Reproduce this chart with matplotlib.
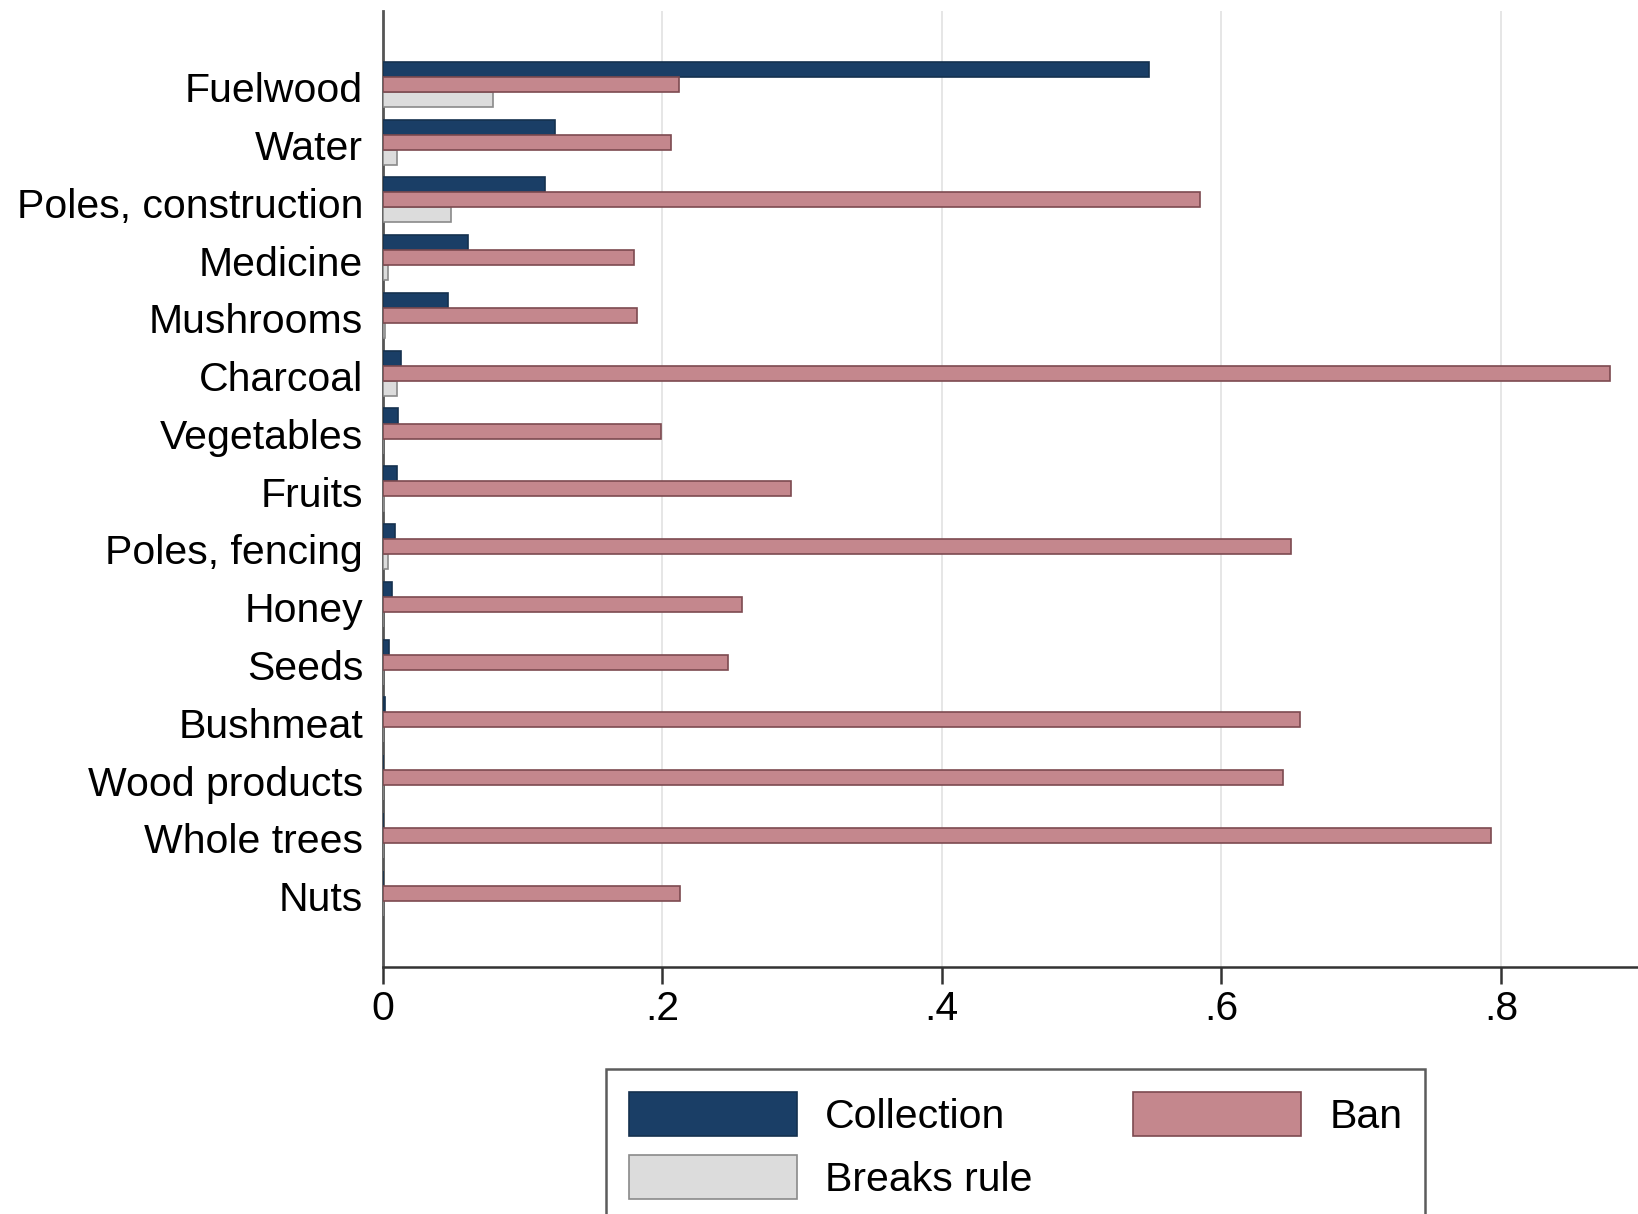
import matplotlib
matplotlib.use("Agg")
import matplotlib.pyplot as plt
import numpy as np

categories = ["Fuelwood", "Water", "Poles, construction", "Medicine", "Mushrooms",
              "Charcoal", "Vegetables", "Fruits", "Poles, fencing", "Honey",
              "Seeds", "Bushmeat", "Wood products", "Whole trees", "Nuts"]
collection = [0.548, 0.123, 0.116, 0.061, 0.047, 0.013, 0.011, 0.010, 0.009, 0.007,
              0.0045, 0.002, 0.0005, 0.0003, 0.0]
ban = [0.212, 0.206, 0.585, 0.180, 0.182, 0.878, 0.199, 0.292, 0.650, 0.257,
       0.247, 0.656, 0.644, 0.793, 0.213]
breaks_rule = [0.079, 0.010, 0.049, 0.004, 0.0015, 0.0105, 0.0005, 0.001, 0.004, 0.0005,
               0.0003, 0.0003, 0.0002, 0.0001, 0.0]
xticks = [0, 0.2, 0.4, 0.6, 0.8]
xticklabels = ["0", ".2", ".4", ".6", ".8"]

plt.rcParams['font.family'] = ['Liberation Sans', 'DejaVu Sans']

fig = plt.figure(figsize=(16.38, 12.14), dpi=100)
ax = fig.add_axes([0.2336, 0.2037, 1 - 0.2336, 0.991 - 0.2037])

y = np.arange(len(categories))
h = 0.26
shift = -0.05
ax.barh(y - h + shift, collection, height=h, color="#1a3e66", edgecolor="#15314f",
        linewidth=1.2, label="Collection", zorder=3)
ax.barh(y + h + shift, breaks_rule, height=h, color="#dcdcdc", edgecolor="#8a8a8a",
        linewidth=1.2, label="Breaks rule", zorder=3)
ax.barh(y + shift, ban, height=h, color="#c4878d", edgecolor="#7d4a50",
        linewidth=1.2, label="Ban", zorder=3)

ax.set_xlim(0, 0.898)
ax.set_ylim(len(categories) - 1 + 1.22, -1.32)
ax.set_yticks(y)
ax.set_yticklabels(categories, fontsize=29.5)
ax.set_xticks(xticks)
ax.set_xticklabels(xticklabels, fontsize=29.5)
ax.tick_params(axis='y', length=0, pad=14)
ax.tick_params(axis='x', length=12, width=1.8, color="#333333", pad=5)

ax.grid(axis='x', color="#e6e6e6", linewidth=1.4, zorder=0)
ax.set_axisbelow(True)
for s in ["top", "right"]:
    ax.spines[s].set_visible(False)
ax.spines["left"].set_color("#555555")
ax.spines["left"].set_linewidth(2)
ax.spines["bottom"].set_color("#333333")
ax.spines["bottom"].set_linewidth(1.8)

leg = fig.legend(loc="upper left", bbox_to_anchor=(606 / 1638, 1 - 1069 / 1214),
                 ncol=2, fontsize=29.5, frameon=True, fancybox=False,
                 handlelength=4.1, handleheight=1.3, handletextpad=0.7,
                 columnspacing=2.45, borderpad=0.55, labelspacing=0.45,
                 borderaxespad=0)
leg.get_frame().set_edgecolor("#333333")
leg.get_frame().set_linewidth(1.8)

fig.savefig("out.png", dpi=100)
